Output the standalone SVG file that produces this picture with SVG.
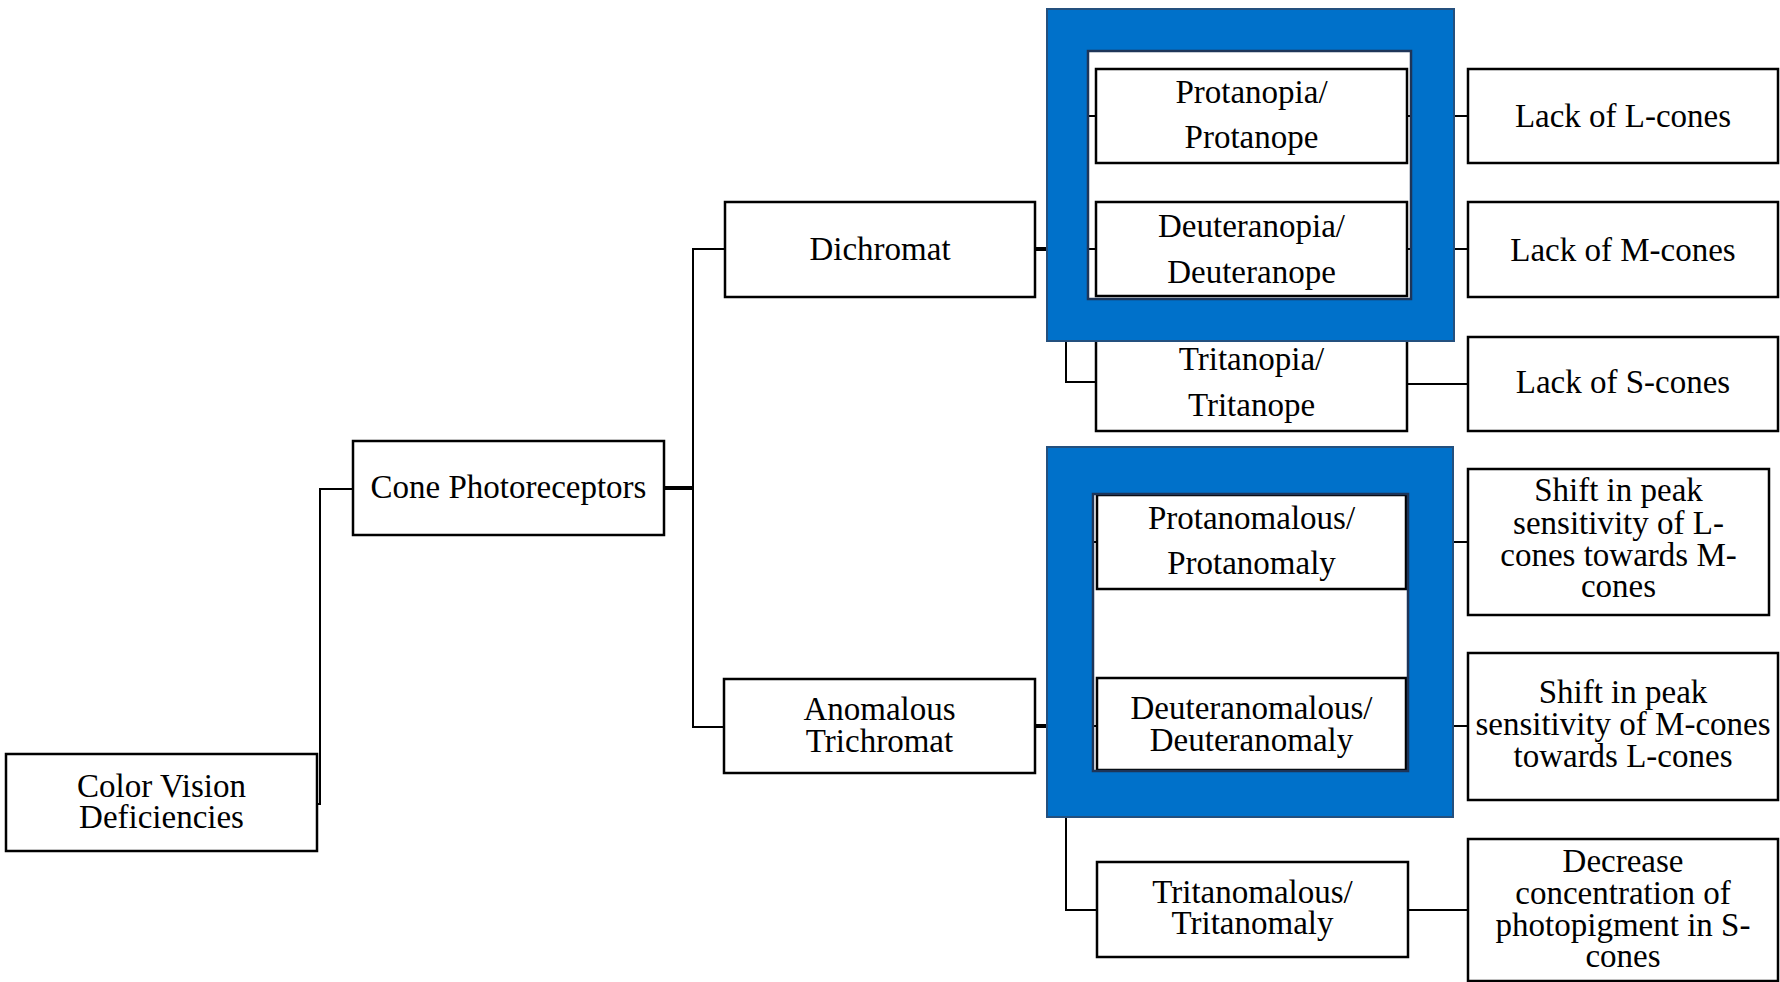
<svg xmlns="http://www.w3.org/2000/svg" width="1780" height="982" viewBox="0 0 1780 982">
<style>
.box{fill:#fff;stroke:#000;stroke-width:2.5}
.t{font-family:"Liberation Serif","Times New Roman",serif;font-size:33px;fill:#000;text-anchor:middle}
.c{fill:none;stroke:#000;stroke-width:2}
.ct{fill:none;stroke:#000;stroke-width:4}
.frame{fill:#0071CA;fill-rule:evenodd}
.fo{fill:none;stroke:#24507E;stroke-width:2}
.fi{fill:none;stroke:#1E3558;stroke-width:2.5}
</style>
<rect width="1780" height="982" fill="#fff"/>
<g id="connectors">
<path class="c" d="M317,804 H320 V489 H353"/>
<path class="ct" d="M663,488 H693"/>
<path class="c" d="M725,249 H693 V727 H724"/>
<path class="ct" d="M1035,249 H1066"/>
<path class="c" d="M1096,116 H1066 V382 H1096 M1066,249 H1096"/>
<path class="c" d="M1407,116 H1468 M1407,249 H1468 M1407,384 H1468"/>
<path class="ct" d="M1035,726 H1066"/>
<path class="c" d="M1097,542 H1066 V910 H1097 M1066,726 H1097"/>
<path class="c" d="M1406,542 H1468 M1406,726 H1468 M1408,910 H1468"/>
</g>
<g id="n-cvd"><rect class="box" x="6" y="754" width="311" height="97"/><text class="t" x="161.5" y="797">Color Vision</text><text class="t" x="161.5" y="828">Deficiencies</text></g>
<g id="n-cone"><rect class="box" x="353" y="441" width="311" height="94"/><text class="t" x="508.5" y="498">Cone Photoreceptors</text></g>
<g id="n-dichromat"><rect class="box" x="725" y="202" width="310" height="95"/><text class="t" x="880" y="260">Dichromat</text></g>
<g id="n-anomalous"><rect class="box" x="724" y="679" width="311" height="94"/><text class="t" x="879.5" y="720">Anomalous</text><text class="t" x="879.5" y="752">Trichromat</text></g>
<g id="n-protanopia"><rect class="box" x="1096" y="69" width="311" height="94"/><text class="t" x="1251.5" y="103">Protanopia/</text><text class="t" x="1251.5" y="148">Protanope</text></g>
<g id="n-deuteranopia"><rect class="box" x="1096" y="202" width="311" height="94"/><text class="t" x="1251.5" y="237">Deuteranopia/</text><text class="t" x="1251.5" y="283">Deuteranope</text></g>
<g id="n-tritanopia"><rect class="box" x="1096" y="337" width="311" height="94"/><text class="t" x="1251.5" y="370">Tritanopia/</text><text class="t" x="1251.5" y="416">Tritanope</text></g>
<g id="n-lackL"><rect class="box" x="1468" y="69" width="310" height="94"/><text class="t" x="1623" y="127">Lack of L-cones</text></g>
<g id="n-lackM"><rect class="box" x="1468" y="202" width="310" height="95"/><text class="t" x="1623" y="261">Lack of M-cones</text></g>
<g id="n-lackS"><rect class="box" x="1468" y="337" width="310" height="94"/><text class="t" x="1623" y="393">Lack of S-cones</text></g>
<g id="n-protanomalous"><rect class="box" x="1097" y="495" width="309" height="94"/><text class="t" x="1251.5" y="529">Protanomalous/</text><text class="t" x="1251.5" y="574">Protanomaly</text></g>
<g id="n-deuteranomalous"><rect class="box" x="1097" y="678" width="309" height="92"/><text class="t" x="1251.5" y="719">Deuteranomalous/</text><text class="t" x="1251.5" y="751">Deuteranomaly</text></g>
<g id="n-tritanomalous"><rect class="box" x="1097" y="862" width="311" height="95"/><text class="t" x="1252.5" y="903">Tritanomalous/</text><text class="t" x="1252.5" y="934">Tritanomaly</text></g>
<g id="n-shiftL"><rect class="box" x="1468" y="469" width="301" height="146"/><text class="t" x="1618.5" y="501">Shift in peak</text><text class="t" x="1618.5" y="534">sensitivity of L-</text><text class="t" x="1618.5" y="566">cones towards M-</text><text class="t" x="1618.5" y="597">cones</text></g>
<g id="n-shiftM"><rect class="box" x="1468" y="653" width="310" height="147"/><text class="t" x="1623" y="703">Shift in peak</text><text class="t" x="1623" y="735">sensitivity of M-cones</text><text class="t" x="1623" y="767">towards L-cones</text></g>
<g id="n-decrease"><rect class="box" x="1468" y="839" width="310" height="142"/><text class="t" x="1623" y="872">Decrease</text><text class="t" x="1623" y="904">concentration of</text><text class="t" x="1623" y="936">photopigment in S-</text><text class="t" x="1623" y="967">cones</text></g>
<g id="frame-dichromat">
<path class="frame" d="M1047,9 H1454 V341 H1047 Z M1088,51 V299 H1411 V51 Z"/>
<rect class="fo" x="1047" y="9" width="407" height="332"/>
<rect class="fi" x="1088" y="51" width="323" height="248"/>
</g>
<g id="frame-anomalous">
<path class="frame" d="M1047,447 H1453 V817 H1047 Z M1093,494 V771 H1408 V494 Z"/>
<rect class="fo" x="1047" y="447" width="406" height="370"/>
<rect class="fi" x="1093" y="494" width="315" height="277"/>
</g>
</svg>
